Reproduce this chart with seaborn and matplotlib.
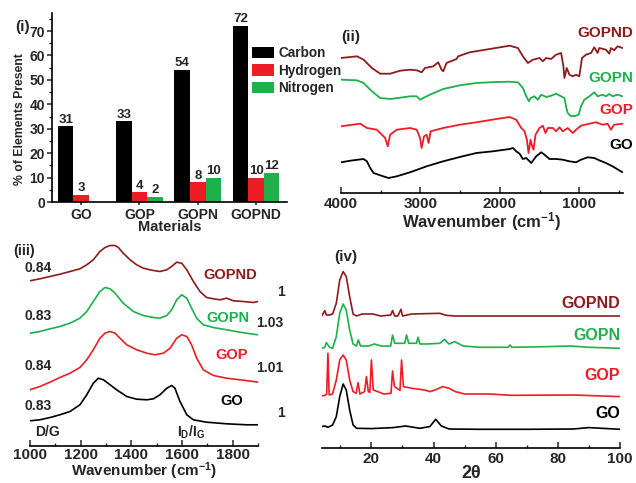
import numpy as np
import pandas as pd
import matplotlib
matplotlib.use("Agg")
import matplotlib.pyplot as plt
import seaborn as sns

# ---------------- data ----------------
materials = ["GO", "GOP", "GOPN", "GOPND"]
elements = ["Carbon", "Hydrogen", "Nitrogen"]
carbon = [31, 33, 54, 72]
hydrogen = [3, 4, 8, 10]
nitrogen = [0, 2, 10, 12]

# FTIR (ii): wavenumber / offset intensity
ftir_gopnd_w = [4000, 3799, 3716, 3611, 3507, 3382, 3256, 3131, 3047, 2985, 2943, 2838, 2776, 2734, 2713, 2671,
                2546, 2525, 2379, 2128, 1877, 1773, 1710, 1647, 1584, 1501, 1459, 1417, 1355, 1292, 1229, 1200,
                1187, 1158, 1125, 1083, 1041, 1000, 966, 916, 853, 811, 770, 749, 665, 623, 602, 561, 519, 456]
ftir_gopnd_y = [135.0, 136.7, 133.3, 125.0, 119.3, 119.3, 122.3, 123.3, 122.7, 120.7, 125.0, 126.7, 130.7, 123.3,
                121.7, 130.0, 134.0, 136.7, 140.7, 144.0, 147.3, 145.0, 136.7, 130.0, 133.3, 135.0, 131.7, 135.0,
                134.0, 138.3, 140.0, 126.7, 115.0, 125.0, 118.3, 116.7, 118.3, 116.7, 135.0, 138.3, 140.0, 145.7,
                140.0, 145.0, 143.3, 139.3, 145.0, 142.7, 146.7, 145.0]
ftir_gopn_w = [4000, 3799, 3716, 3611, 3507, 3382, 3256, 3131, 3047, 3005, 2964, 2880, 2713, 2504, 2295, 2044,
               1877, 1773, 1710, 1668, 1635, 1614, 1564, 1522, 1480, 1417, 1355, 1292, 1229, 1187, 1167, 1146,
               1104, 1041, 1008, 979, 937, 874, 811, 770, 707, 665, 623, 582, 519, 456]
ftir_gopn_y = [113.3, 112.7, 110.0, 101.7, 95.0, 94.0, 95.3, 96.7, 96.7, 93.3, 95.0, 98.3, 104.0, 107.7, 110.0,
               111.0, 111.3, 110.7, 105.0, 96.7, 91.7, 95.0, 96.7, 93.3, 98.3, 96.0, 97.3, 99.3, 96.7, 95.0, 86.7,
               80.0, 76.7, 77.3, 78.3, 86.7, 93.3, 96.7, 100.7, 96.7, 98.3, 96.7, 99.0, 96.7, 98.3, 96.7]
ftir_gop_w = [4000, 3758, 3674, 3549, 3486, 3444, 3411, 3382, 3298, 3131, 3047, 3005, 2985, 2955, 2922, 2897,
              2872, 2713, 2504, 2295, 2044, 1877, 1794, 1731, 1689, 1660, 1639, 1614, 1593, 1576, 1551, 1501,
              1459, 1426, 1396, 1334, 1292, 1250, 1208, 1146, 1083, 1041, 979, 874, 791, 707, 644, 602, 561, 456]
ftir_gop_y = [66.7, 69.3, 65.0, 63.3, 58.3, 55.0, 46.7, 58.3, 63.3, 65.0, 63.3, 55.0, 45.0, 56.7, 58.3, 50.0,
              61.7, 65.0, 68.3, 70.7, 74.0, 76.0, 73.3, 65.0, 61.7, 53.3, 40.0, 53.3, 46.7, 43.3, 58.3, 65.0,
              67.3, 60.0, 65.0, 65.0, 61.7, 65.7, 61.7, 65.0, 60.0, 63.3, 67.3, 69.3, 70.7, 68.3, 69.3, 63.3,
              68.3, 69.3]
ftir_go_w = [4000, 3883, 3716, 3674, 3632, 3590, 3507, 3402, 3298, 3131, 2922, 2713, 2504, 2295, 2086, 1877,
             1835, 1794, 1752, 1710, 1668, 1605, 1543, 1480, 1438, 1376, 1292, 1208, 1125, 1041, 979, 895, 811,
             749, 665, 582, 456]
ftir_go_y = [30.7, 32.3, 34.0, 31.7, 25.0, 20.0, 17.7, 15.0, 16.7, 20.7, 26.7, 31.7, 36.0, 40.0, 41.7, 44.0,
             45.0, 41.7, 39.3, 34.0, 35.0, 30.0, 36.7, 40.7, 38.3, 34.0, 34.0, 33.3, 31.7, 30.7, 33.3, 35.7,
             35.0, 32.7, 30.0, 26.7, 20.7]

# Raman (iii)
raman_gopnd_w = [1000, 1039, 1079, 1118, 1158, 1197, 1224, 1250, 1276, 1296, 1316, 1336, 1349, 1368, 1395, 1421,
                 1447, 1487, 1513, 1540, 1559, 1579, 1599, 1619, 1645, 1671, 1697, 1724, 1750, 1776, 1803, 1842,
                 1882, 1901]
raman_gopnd = [164.7, 166.7, 169.0, 171.3, 174.0, 176.7, 180.7, 185.7, 194.0, 198.0, 200.0, 200.0, 198.0,
               192.3, 185.7, 180.7, 177.3, 175.0, 174.0, 175.7, 179.0, 183.3, 182.3, 175.7, 164.0, 154.0,
               148.0, 146.7, 145.7, 147.3, 144.7, 144.0, 143.0, 144.0]
raman_gopn_w = [1000, 1039, 1079, 1118, 1158, 1197, 1224, 1250, 1276, 1296, 1316, 1336, 1368, 1408, 1447, 1487,
                1513, 1540, 1559, 1579, 1599, 1619, 1638, 1658, 1684, 1724, 1776, 1829, 1882, 1901]
raman_gopn = [112.3, 114.0, 116.7, 119.0, 122.3, 127.3, 134.0, 144.0, 154.0, 158.0, 156.7, 152.3, 142.3,
              134.0, 130.0, 128.0, 127.3, 130.0, 135.7, 145.7, 150.7, 147.3, 137.3, 127.3, 120.7, 118.0,
              115.7, 113.3, 111.3, 110.7]
raman_gop_w = [1000, 1039, 1079, 1118, 1158, 1197, 1224, 1250, 1276, 1296, 1316, 1336, 1355, 1382, 1421, 1461,
               1493, 1526, 1553, 1579, 1599, 1619, 1638, 1658, 1684, 1724, 1776, 1829, 1882, 1901]
raman_gop = [55.7, 59.0, 63.3, 68.0, 72.3, 78.0, 85.7, 95.7, 107.3, 112.3, 114.0, 112.3, 107.3, 100.7, 95.7,
             92.3, 90.7, 92.3, 97.3, 107.3, 110.7, 109.0, 100.7, 87.3, 75.7, 70.0, 67.3, 65.7, 64.0, 63.3]
raman_go_w = [1000, 1039, 1079, 1118, 1158, 1197, 1224, 1250, 1270, 1290, 1316, 1342, 1382, 1421, 1461, 1487,
              1513, 1540, 1559, 1572, 1592, 1619, 1645, 1697, 1776, 1855, 1901]
raman_go = [24.7, 25.7, 28.0, 30.7, 34.0, 40.7, 50.7, 62.3, 67.3, 65.7, 60.7, 55.7, 49.0, 46.3, 45.7, 46.7,
            50.7, 57.3, 60.0, 57.3, 44.0, 30.7, 25.7, 23.3, 21.7, 20.7, 20.7]
raman_ratio_dg = ["0.83", "0.84", "0.83", "0.84"]     # GO, GOP, GOPN, GOPND
raman_ratio_idig = ["1", "1.01", "1.03", "1"]

# XRD (iv)
xrd_go_t = [4, 5, 6, 7.5, 8.7, 9.8, 10.9, 11.9, 13.0, 14.1, 15.2, 20, 27, 31, 35.6, 38.8, 40.7, 42.5, 45, 55,
            70, 85, 90, 100]
xrd_go = [21.7, 22.3, 21.0, 23.3, 31.7, 51.7, 64.3, 58.3, 38.3, 23.3, 20.0, 19.7, 20.7, 22.3, 20.0, 21.7, 29.0,
          22.3, 19.3, 19.0, 19.0, 19.3, 20.7, 19.0]
xrd_gop_t = [4, 5, 5.6, 6.0, 6.4, 7.5, 8.7, 9.8, 10.9, 11.9, 13.0, 14.1, 15.1, 15.7, 16.3, 17.8, 18.4, 19.0,
             19.5, 20.0, 20.6, 22, 24, 26.3, 26.8, 27.4, 29.2, 29.7, 30.3, 33, 35.5, 37, 39, 41, 43, 45, 47, 50,
             58, 65, 85, 100]
xrd_gop = [52.3, 53.0, 54.0, 95.0, 53.3, 54.3, 68.3, 88.3, 93.3, 88.3, 68.3, 56.7, 55.0, 65.7, 54.3, 56.7, 71.7,
           56.7, 56.0, 88.3, 58.3, 56.7, 54.3, 55.0, 77.3, 61.7, 58.0, 88.3, 61.7, 60.0, 59.0, 58.3, 56.7, 59.0,
           61.7, 60.0, 56.7, 54.3, 54.3, 53.0, 53.3, 51.7]
xrd_gopn_t = [4, 5.0, 5.5, 6.5, 7.5, 8.7, 9.8, 10.9, 11.9, 13.0, 14.1, 15.2, 15.8, 16.5, 19, 21, 23.2, 26.2,
              26.8, 27.5, 30.7, 31.3, 32, 34.5, 35.0, 35.6, 38, 42, 43.5, 45, 46.8, 49.5, 55, 64.0, 64.6, 65.2,
              77, 84, 90, 100]
xrd_gopn = [100.0, 101.0, 105.7, 101.0, 100.0, 111.7, 135.0, 144.3, 138.3, 118.3, 104.3, 102.3, 108.3, 102.3,
            102.3, 104.3, 102.3, 102.3, 113.3, 105.0, 105.0, 113.3, 105.0, 105.0, 111.0, 104.3, 104.3, 105.0,
            109.0, 104.3, 106.7, 102.3, 101.0, 101.0, 103.3, 101.0, 101.7, 102.3, 101.0, 100.0]
xrd_gopnd_t = [4, 5, 5.5, 6.5, 7.5, 8.7, 9.8, 10.9, 11.9, 13.0, 14.1, 15.2, 17, 20.5, 23, 26.2, 26.8, 27.5,
               28.5, 29.5, 30, 33, 42, 44, 47, 60, 80, 100]
xrd_gopnd = [132.3, 137.7, 133.3, 133.3, 134.3, 145.0, 168.3, 176.7, 171.7, 151.7, 134.3, 132.3, 134.3, 134.3,
             132.3, 133.3, 137.7, 132.3, 132.3, 139.0, 132.3, 134.3, 135.0, 133.0, 132.3, 132.3, 132.3, 132.3]

# ---------------- style ----------------
BLACK = "#000000"
RED = "#EE1C25"
GREEN = "#1DB04B"
DRED = "#8E1B1B"

sns.set_style("white")
plt.rcParams["font.family"] = ["Liberation Sans", "DejaVu Sans"]
plt.rcParams["font.weight"] = "bold"
plt.rcParams["axes.labelweight"] = "bold"
plt.rcParams["mathtext.fontset"] = "custom"
plt.rcParams["mathtext.rm"] = "Liberation Sans:bold"
plt.rcParams["mathtext.bf"] = "Liberation Sans:bold"
plt.rcParams["mathtext.default"] = "bf"

fig = plt.figure(figsize=(6.36, 4.83), dpi=100)

def px_axes(l, r, b, t):
    W, H = 636.0, 483.0
    ax = fig.add_axes([l / W, 1 - b / H, (r - l) / W, (b - t) / H])
    ax.patch.set_alpha(0)
    return ax

def bottom_only(ax, lw=1.2, pad=3):
    for s in ["left", "right", "top"]:
        ax.spines[s].set_visible(False)
    ax.spines["bottom"].set_linewidth(lw)
    ax.spines["bottom"].set_color("black")
    ax.set_yticks([])
    ax.tick_params(axis="x", which="major", direction="in", length=4, width=1.1, labelsize=11, pad=pad, bottom=True)
    ax.tick_params(axis="x", which="minor", direction="in", length=2.5, width=1.0, bottom=True)
    for lab in ax.get_xticklabels():
        lab.set_fontweight("bold")

# ---------------- panel (i) ----------------
ax1 = px_axes(52, 287, 202, 13)
ax1.set_zorder(5)
df_bar = pd.DataFrame({
    "Material": materials * 3,
    "Element": ["Carbon"] * 4 + ["Hydrogen"] * 4 + ["Nitrogen"] * 4,
    "Percent": carbon + hydrogen + nitrogen,
})
sns.barplot(data=df_bar, x="Material", y="Percent", hue="Element", order=materials, hue_order=elements,
            palette=[BLACK, RED, GREEN], width=0.8, ax=ax1, saturation=1, edgecolor="none")
for cont, vals in zip(ax1.containers, [carbon, hydrogen, nitrogen]):
    ax1.bar_label(cont, labels=[str(v) if v > 0 else "" for v in vals], padding=0.5,
                  fontsize=9.5, fontweight="bold")
ax1.set_xlim(-0.5, 3.53)
ax1.set_ylim(0, 77.4)
ax1.set_yticks(range(0, 71, 10))
ax1.set_yticks(range(5, 76, 10), minor=True)
ax1.spines["right"].set_visible(False)
ax1.spines["top"].set_visible(False)
ax1.spines["left"].set_linewidth(1.2)
ax1.spines["bottom"].set_linewidth(1.2)
ax1.spines["left"].set_color("black")
ax1.spines["bottom"].set_color("black")
ax1.tick_params(axis="y", which="major", direction="out", length=3.5, width=1.1, labelsize=10, left=True, pad=1.5)
ax1.tick_params(axis="y", which="minor", direction="out", length=2, width=1.0, left=True)
ax1.tick_params(axis="x", which="major", direction="out", length=2.5, width=1.1, labelsize=10, bottom=True, pad=1.5)
for lab in ax1.get_xticklabels() + ax1.get_yticklabels():
    lab.set_fontweight("bold")
ax1.set_xlabel("Materials", fontsize=10.5, fontweight="bold", labelpad=-1)
ax1.set_ylabel("% of Elements Present", fontsize=8.8, fontweight="bold")
ax1.yaxis.set_label_coords(-0.112, 0.44)
leg = ax1.legend(loc="upper left", bbox_to_anchor=(0.83, 0.855), frameon=False, fontsize=9.8,
                 handlelength=1.6, handleheight=0.9, handletextpad=0.3, labelspacing=0.28, borderaxespad=0)
for t in leg.get_texts():
    t.set_fontweight("bold")
fig.text(15 / 636, 1 - 27 / 483, "(i)", fontsize=11, fontweight="bold", ha="left", va="center")

# ---------------- panel (ii) FTIR ----------------
ax2 = px_axes(341, 623, 193, 20)
ftir_sets = [("GO", ftir_go_w, ftir_go_y, BLACK), ("GOP", ftir_gop_w, ftir_gop_y, RED),
             ("GOPN", ftir_gopn_w, ftir_gopn_y, GREEN), ("GOPND", ftir_gopnd_w, ftir_gopnd_y, DRED)]
for name, w, y, c in ftir_sets:
    sns.lineplot(x=w, y=y, color=c, lw=1.3, estimator=None, ax=ax2)
ax2.set_xlim(4000, 450)
ax2.set_ylim(0, 173)
ax2.set_xticks([4000, 3000, 2000, 1000])
ax2.set_xticks([3500, 2500, 1500, 500], minor=True)
bottom_only(ax2)
ax2.set_xlabel("Wavenumber (cm$^{-1}$)", fontsize=12, fontweight="bold", labelpad=-1)
ax2.text(3875, 156, "(ii)", fontsize=11, fontweight="bold", ha="center", va="center", clip_on=False)
for name, yy, c in [("GOPND", 160, DRED), ("GOPN", 115, GREEN), ("GOP", 83, RED), ("GO", 48, BLACK)]:
    ax2.text(322, yy, name, color=c, fontsize=11, fontweight="bold", ha="right", va="center", clip_on=False)

# ---------------- panel (iii) Raman ----------------
ax3 = px_axes(30, 258, 445.5, 238.2)
raman_sets = [(raman_go_w, raman_go, BLACK), (raman_gop_w, raman_gop, RED),
              (raman_gopn_w, raman_gopn, GREEN), (raman_gopnd_w, raman_gopnd, DRED)]
for w, y, c in raman_sets:
    sns.lineplot(x=w, y=y, color=c, lw=1.2, estimator=None, ax=ax3)
ax3.set_xlim(1000, 1900)
ax3.set_ylim(0, 207.3)
ax3.set_xticks([1000, 1200, 1400, 1600, 1800])
ax3.set_xticks([1100, 1300, 1500, 1700, 1900], minor=True)
bottom_only(ax3, pad=1.5)
ax3.set_xlabel("Wavenumber (cm$^{-1}$)", fontsize=11, fontweight="bold", labelpad=-1)
ax3.text(933, 194, "(iii)", fontsize=10.5, fontweight="bold", ha="left", va="center", clip_on=False)
name_y = [44.7, 90.7, 128.0, 170.7]
name_x = [1795, 1795, 1780, 1791]
dg_y = [39, 80, 130, 178]
idig_y = [32.3, 78, 122.3, 154]
idig_x = [1992, 1894, 1894, 1992]
idig_ha = ["center", "left", "left", "center"]
for i, (name, c) in enumerate(zip(materials, [BLACK, RED, GREEN, DRED])):
    ax3.text(name_x[i], name_y[i], name, color=c, fontsize=10.5, fontweight="bold", ha="center", va="center",
             clip_on=False)
    ax3.text(980, dg_y[i], raman_ratio_dg[i], fontsize=10, fontweight="bold", ha="left", va="center",
             clip_on=False)
    ax3.text(idig_x[i], idig_y[i], raman_ratio_idig[i], fontsize=10, fontweight="bold", ha=idig_ha[i],
             va="center", clip_on=False)
ax3.text(1020, 14, "D/G", fontsize=10, fontweight="bold", ha="left", va="center", clip_on=False)
ax3.text(1579, 13.3, "I$_{D}$/I$_{G}$", fontsize=10, fontweight="bold", ha="left", va="center", clip_on=False)

# ---------------- panel (iv) XRD ----------------
ax4 = px_axes(321.7, 620, 448.3, 240)
xrd_sets = [(xrd_go_t, xrd_go, BLACK), (xrd_gop_t, xrd_gop, RED),
            (xrd_gopn_t, xrd_gopn, GREEN), (xrd_gopnd_t, xrd_gopnd, DRED)]
for t, y, c in xrd_sets:
    sns.lineplot(x=t, y=y, color=c, lw=1.2, estimator=None, ax=ax4)
ax4.set_xlim(4, 100)
ax4.set_ylim(0, 208.3)
ax4.set_xticks([20, 40, 60, 80, 100])
ax4.set_xticks([10, 30, 50, 70, 90], minor=True)
bottom_only(ax4)
ax4.set_xlabel("2θ", fontsize=13, fontweight="bold", labelpad=-1)
ax4.text(11.7, 191.7, "(iv)", fontsize=11, fontweight="bold", ha="center", va="center", clip_on=False)
for name, yy, c in [("GOPND", 145, DRED), ("GOPN", 113.3, GREEN), ("GOP", 73.3, RED), ("GO", 35, BLACK)]:
    ax4.text(100, yy, name, color=c, fontsize=11.5, fontweight="bold", ha="right", va="center", clip_on=False)

fig.savefig("out.png", dpi=100)
